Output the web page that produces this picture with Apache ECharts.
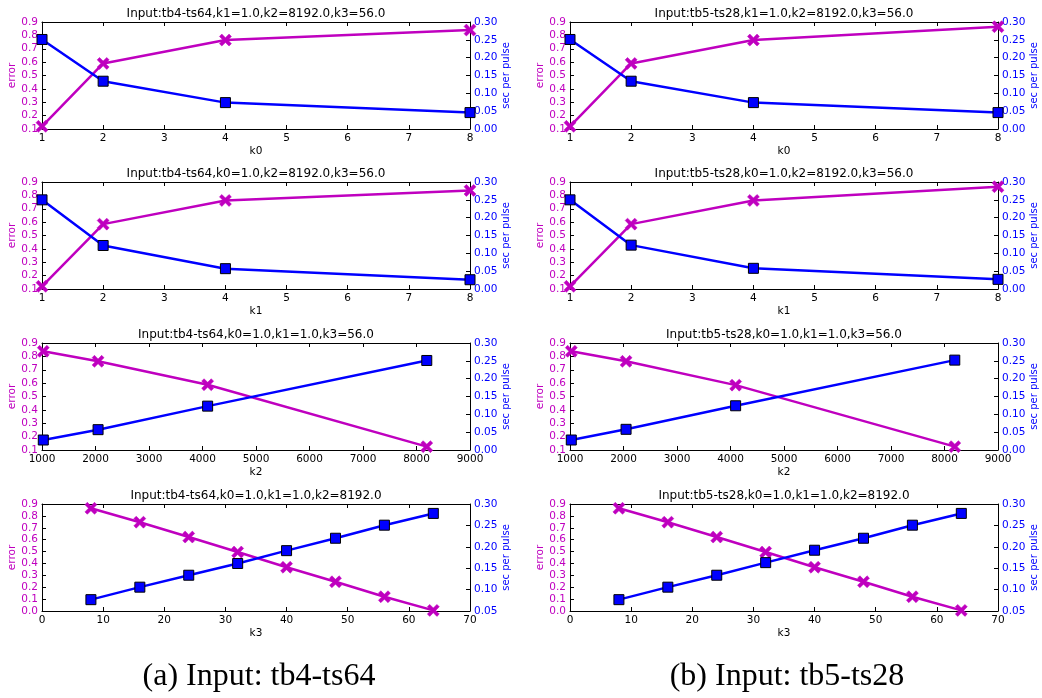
<!DOCTYPE html>
<html>
<head>
<meta charset="utf-8">
<script src="https://cdn.jsdelivr.net/npm/echarts@6/dist/echarts.min.js"></script>
<style>
html,body{margin:0;padding:0;background:#fff;}
#chart{width:1042px;height:698px;}
</style>
</head>
<body>
<div id="chart"></div>
<script>
// ---- data ----
const xK0 = [1, 2, 4, 8];
const xK1 = [1, 2, 4, 8];
const xK2 = [1024, 2048, 4096, 8192];
const xK3 = [8, 16, 24, 32, 40, 48, 56, 64];

const errK0_a = [0.12, 0.59, 0.765, 0.84];
const secK0_a = [0.251, 0.134, 0.074, 0.046];
const errK0_b = [0.12, 0.59, 0.765, 0.865];
const secK0_b = [0.251, 0.134, 0.074, 0.046];

const errK1_a = [0.12, 0.585, 0.762, 0.837];
const secK1_a = [0.25, 0.122, 0.057, 0.026];
const errK1_b = [0.12, 0.585, 0.762, 0.865];
const secK1_b = [0.25, 0.123, 0.058, 0.027];

const errK2_a = [0.838, 0.763, 0.588, 0.125];
const secK2_a = [0.028, 0.057, 0.123, 0.251];
const errK2_b = [0.838, 0.763, 0.585, 0.125];
const secK2_b = [0.028, 0.058, 0.124, 0.252];

const errK3_a = [0.864, 0.747, 0.622, 0.496, 0.368, 0.246, 0.12, 0.005];
const secK3_a = [0.0765, 0.1057, 0.1336, 0.161, 0.191, 0.220, 0.2505, 0.278];
const errK3_b = [0.864, 0.747, 0.622, 0.496, 0.368, 0.246, 0.12, 0.005];
const secK3_b = [0.0765, 0.1057, 0.1336, 0.163, 0.192, 0.220, 0.2505, 0.278];

const titles = [
  'Input:tb4-ts64,k1=1.0,k2=8192.0,k3=56.0', 'Input:tb5-ts28,k1=1.0,k2=8192.0,k3=56.0',
  'Input:tb4-ts64,k0=1.0,k2=8192.0,k3=56.0', 'Input:tb5-ts28,k0=1.0,k2=8192.0,k3=56.0',
  'Input:tb4-ts64,k0=1.0,k1=1.0,k3=56.0', 'Input:tb5-ts28,k0=1.0,k1=1.0,k3=56.0',
  'Input:tb4-ts64,k0=1.0,k1=1.0,k2=8192.0', 'Input:tb5-ts28,k0=1.0,k1=1.0,k2=8192.0'
];
const captions = ['(a) Input: tb4-ts64', '(b) Input: tb5-ts28'];
const xNames = ['k0', 'k1', 'k2', 'k3'];
const yNameLeft = 'error';
const yNameRight = 'sec per pulse';

// axis ranges per row: [xMin, xMax, xInterval, leftMin, leftMax, rightMin, rightMax]
const rowAxes = [
  [1, 8, 1, 0.1, 0.9, 0, 0.3],
  [1, 8, 1, 0.1, 0.9, 0, 0.3],
  [1000, 9000, 1000, 0.1, 0.9, 0, 0.3],
  [0, 70, 10, 0, 0.9, 0.05, 0.3]
];

const panels = [
  {row:0,col:0,x:xK0,err:errK0_a,sec:secK0_a},
  {row:0,col:1,x:xK0,err:errK0_b,sec:secK0_b},
  {row:1,col:0,x:xK1,err:errK1_a,sec:secK1_a},
  {row:1,col:1,x:xK1,err:errK1_b,sec:secK1_b},
  {row:2,col:0,x:xK2,err:errK2_a,sec:secK2_a},
  {row:2,col:1,x:xK2,err:errK2_b,sec:secK2_b},
  {row:3,col:0,x:xK3,err:errK3_a,sec:secK3_a},
  {row:3,col:1,x:xK3,err:errK3_b,sec:secK3_b}
];

// ---- layout / style ----
const MAG = '#bf00bf', BLUE = '#0000ff';
const FONT = 'DejaVu Sans';
const colLeft = [42, 570];
const plotW = 428;
const rowTop = [22, 182, 343, 504];
const plotH = 107;
const XMARK = 'path://M0,2L2,0L5,3L8,0L10,2L7,5L10,8L8,10L5,7L2,10L0,8L3,5Z';

const grid = [], xAxis = [], yAxis = [], series = [], title = [];
panels.forEach((p, i) => {
  const ax = rowAxes[p.row];
  const left = colLeft[p.col], top = rowTop[p.row];
  grid.push({left: left, top: top, width: plotW, height: plotH, containLabel: false});
  title.push({
    text: titles[i], left: left + plotW / 2, top: top - 14, textAlign: 'center', padding: 0,
    textStyle: {fontFamily: FONT, fontSize: 12, fontWeight: 'normal', color: '#000'}
  });
  const tick = {show: true, inside: true, length: 4, lineStyle: {color: '#000', width: 1}};
  xAxis.push({
    type: 'value', gridIndex: i, position: 'bottom', min: ax[0], max: ax[1], interval: ax[2],
    name: xNames[p.row], nameLocation: 'middle', nameGap: 17,
    nameTextStyle: {fontFamily: FONT, fontSize: 10.5, color: '#000'},
    axisLine: {show: true, onZero: false, lineStyle: {color: '#000', width: 1}},
    axisTick: tick, splitLine: {show: false},
    axisLabel: {fontFamily: FONT, fontSize: 10.5, color: '#000', margin: 4, formatter: v => String(v)}
  });
  xAxis.push({
    type: 'value', gridIndex: i, position: 'top', min: ax[0], max: ax[1], interval: ax[2],
    axisLine: {show: true, onZero: false, lineStyle: {color: '#000', width: 1}},
    axisTick: tick, splitLine: {show: false}, axisLabel: {show: false}
  });
  yAxis.push({
    type: 'value', gridIndex: i, position: 'left', min: ax[3], max: ax[4], interval: 0.1,
    name: yNameLeft, nameLocation: 'middle', nameGap: 20, nameRotate: 90,
    nameTextStyle: {fontFamily: FONT, fontSize: 10.5, color: MAG},
    axisLine: {show: true, onZero: false, lineStyle: {color: '#000', width: 1}},
    axisTick: tick, splitLine: {show: false},
    axisLabel: {fontFamily: FONT, fontSize: 10.5, color: MAG, margin: 4, formatter: v => v.toFixed(1)}
  });
  yAxis.push({
    type: 'value', gridIndex: i, position: 'right', min: ax[5], max: ax[6], interval: 0.05,
    name: yNameRight, nameLocation: 'middle', nameGap: 30, nameRotate: 90,
    nameTextStyle: {fontFamily: FONT, fontSize: 10, color: BLUE},
    axisLine: {show: true, onZero: false, lineStyle: {color: '#000', width: 1}},
    axisTick: tick, splitLine: {show: false},
    axisLabel: {fontFamily: FONT, fontSize: 10.5, color: BLUE, margin: 4, formatter: v => v.toFixed(2)}
  });
  series.push({
    type: 'line', xAxisIndex: 2 * i, yAxisIndex: 2 * i,
    data: p.x.map((xv, k) => [xv, p.err[k]]),
    symbol: XMARK, symbolSize: 12, showAllSymbol: true,
    lineStyle: {color: MAG, width: 2.5}, itemStyle: {color: MAG, borderColor: MAG, borderWidth: 0.5},
    clip: true, z: 2
  });
  series.push({
    type: 'line', xAxisIndex: 2 * i, yAxisIndex: 2 * i + 1,
    data: p.x.map((xv, k) => [xv, p.sec[k]]),
    symbol: 'rect', symbolSize: 10, showAllSymbol: true,
    lineStyle: {color: BLUE, width: 2.5}, itemStyle: {color: BLUE, borderColor: '#000', borderWidth: 1},
    clip: true, z: 3
  });
});

const graphic = captions.map((c, j) => ({
  type: 'text',
  x: colLeft[j] + plotW / 2 + 3, y: 677,
  style: {text: c, textAlign: 'center', textVerticalAlign: 'middle',
    font: '32px "Liberation Serif", serif', fill: '#000'}
}));

const chart = echarts.init(document.getElementById('chart'), null, {renderer: 'canvas'});
chart.setOption({
  animation: false, backgroundColor: '#fff',
  title, grid, xAxis, yAxis, series, graphic
});
</script>
</body>
</html>
